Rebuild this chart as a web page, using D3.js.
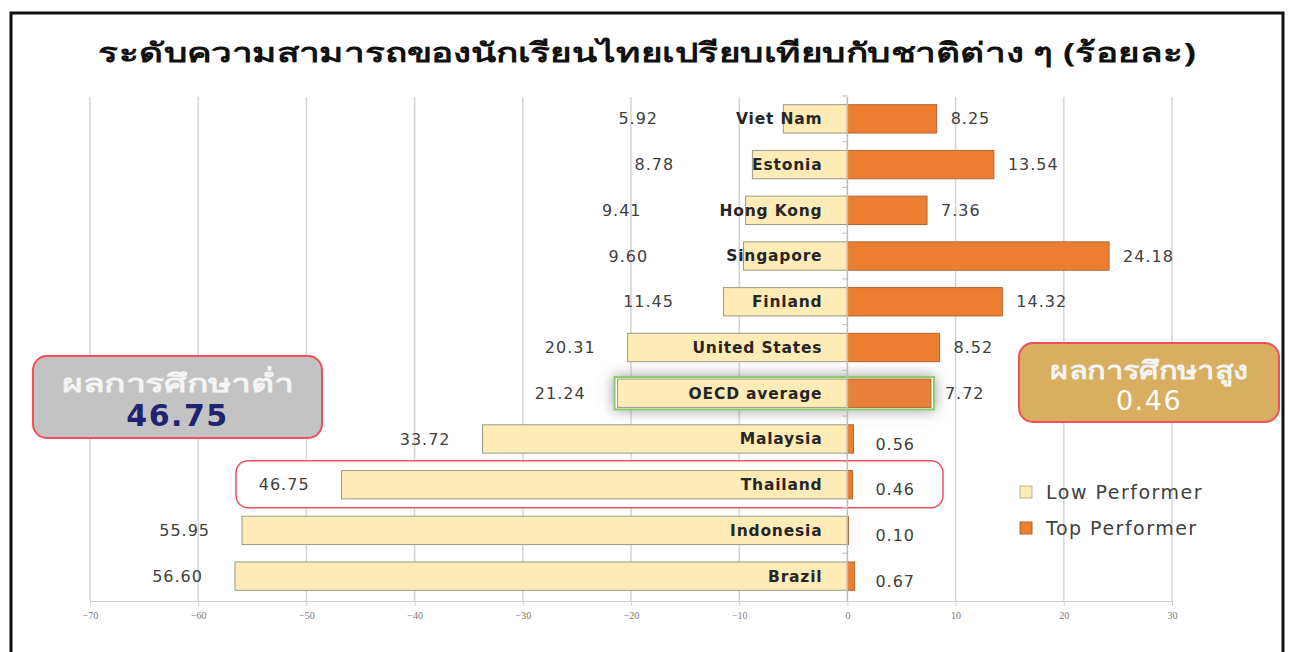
<!DOCTYPE html>
<html>
<head>
<meta charset="utf-8">
<script src="https://cdn.jsdelivr.net/npm/d3@7"></script>
<style>
  body { margin: 0; background: #fff; }
  svg { display: block; }
</style>
</head>
<body>
<div id="chart"></div>
<script>
// data, top to bottom
const countries = ["Viet Nam", "Estonia", "Hong Kong", "Singapore", "Finland", "United States",
    "OECD average", "Malaysia", "Thailand", "Indonesia", "Brazil"];
const lowPerformer = [5.92, 8.78, 9.41, 9.60, 11.45, 20.31, 21.24, 33.72, 46.75, 55.95, 56.60];
const topPerformer = [8.25, 13.54, 7.36, 24.18, 14.32, 8.52, 7.72, 0.56, 0.46, 0.10, 0.67];
const xTicks = [-70, -60, -50, -40, -30, -20, -10, 0, 10, 20, 30];
const seriesNames = ["Low Performer", "Top Performer"];
const titleText = "ระดับความสามารถของนักเรียนไทยเปรียบเทียบกับชาติต่าง ๆ (ร้อยละ)";
const lowBox = ["ผลการศึกษาต่ำ", "46.75"];
const highBox = ["ผลการศึกษาสูง", "0.46"];

const width = 1289, height = 652;
const lowColor = "#FFEBB5", topColor = "#ED7D31";
const labelFont = "'DejaVu Sans', sans-serif";
const thaiFont = "'Noto Sans', 'DejaVu Sans', sans-serif";

const data = countries.map((c, i) => ({ country: c, low: lowPerformer[i], top: topPerformer[i] }));

const svg = d3.select("#chart").append("svg")
    .attr("width", width)
    .attr("height", height);

// soft shadow for the OECD row
const defs = svg.append("defs");
const glow = defs.append("filter").attr("id", "glow")
    .attr("x", "-20%").attr("y", "-100%").attr("width", "140%").attr("height", "300%");
glow.append("feGaussianBlur").attr("in", "SourceAlpha").attr("stdDeviation", 7).attr("result", "b");
glow.append("feFlood").attr("flood-color", "#777").attr("flood-opacity", 0.75);
glow.append("feComposite").attr("in2", "b").attr("operator", "in").attr("result", "s");
const gm = glow.append("feMerge");
gm.append("feMergeNode").attr("in", "s");
gm.append("feMergeNode").attr("in", "SourceGraphic");

// outer frame
svg.append("rect")
    .attr("x", 11).attr("y", 13)
    .attr("width", 1272).attr("height", 660)
    .attr("fill", "none")
    .attr("stroke", "#111")
    .attr("stroke-width", 3);

// title
svg.append("text")
    .attr("x", 647).attr("y", 62)
    .attr("text-anchor", "middle")
    .style("font-family", thaiFont)
    .style("font-size", "27px")
    .style("font-weight", "bold")
    .attr("fill", "#111")
    .attr("textLength", 1098)
    .attr("lengthAdjust", "spacingAndGlyphs")
    .text(titleText);

// scales
const x = d3.scaleLinear().domain([-70, 30]).range([90, 1172]);
const y = d3.scaleBand().domain(countries).range([96, 599]).paddingInner(0.38).paddingOuter(0.19);
const axisY = 601;

// gridlines
svg.append("g").selectAll("line")
    .data(xTicks.filter(d => d !== 0))
    .join("line")
    .attr("x1", d => x(d)).attr("x2", d => x(d))
    .attr("y1", 97).attr("y2", axisY)
    .attr("stroke", "#d4d4d4")
    .attr("stroke-width", 1.5);

// Thailand highlight
const thY = y("Thailand") + y.bandwidth() / 2;
svg.append("rect")
    .attr("x", 236).attr("y", thY - 24)
    .attr("width", 707).attr("height", 47)
    .attr("rx", 12)
    .attr("fill", "#fff")
    .attr("stroke", "#F05060")
    .attr("stroke-width", 1.5);

// x axis
const xAxis = d3.axisBottom(x).tickValues(xTicks).tickSize(5).tickPadding(6);
const xAxisG = svg.append("g")
    .attr("transform", `translate(0,${axisY})`)
    .call(xAxis);
xAxisG.select(".domain").attr("stroke", "#d0d0d0");
xAxisG.selectAll(".tick line").attr("stroke", "#d0d0d0");
xAxisG.selectAll(".tick text")
    .attr("fill", "#777")
    .style("font-family", "'Liberation Serif', serif")
    .style("font-size", "10px");

// OECD glow box
const oY = y("OECD average");
svg.append("rect")
    .attr("x", x(-21.24) - 3).attr("y", oY - 2)
    .attr("width", x(7.72) - x(-21.24) + 6).attr("height", y.bandwidth() + 4)
    .attr("fill", "#fff")
    .attr("stroke", "#8CCB6A")
    .attr("stroke-width", 2)
    .attr("filter", "url(#glow)");

// bars
const rows = svg.append("g").selectAll(".row")
    .data(data)
    .join("g")
    .attr("class", "row");

rows.append("rect")
    .attr("x", d => x(-d.low))
    .attr("y", d => y(d.country))
    .attr("width", d => x(0) - x(-d.low))
    .attr("height", y.bandwidth())
    .attr("fill", lowColor)
    .attr("stroke", "#9a9a8a")
    .attr("stroke-width", 1);

rows.append("rect")
    .attr("x", x(0))
    .attr("y", d => y(d.country))
    .attr("width", d => x(d.top) - x(0))
    .attr("height", y.bandwidth())
    .attr("fill", d => d.country === "OECD average" ? "#E8803A" : topColor)
    .attr("stroke", "#B5652E")
    .attr("stroke-width", 1);

// zero line with small ticks between rows
svg.append("line")
    .attr("x1", x(0)).attr("x2", x(0))
    .attr("y1", 97).attr("y2", axisY)
    .attr("stroke", "#bbb")
    .attr("stroke-width", 1.5);
svg.append("g").selectAll("line")
    .data(countries)
    .join("line")
    .attr("x1", x(0) - 5).attr("x2", x(0))
    .attr("y1", d => y(d) - y.step() * y.paddingInner() / 2)
    .attr("y2", d => y(d) - y.step() * y.paddingInner() / 2)
    .attr("stroke", "#bbb");

// country names
const names = rows.append("text")
    .attr("x", x(0) - 25)
    .attr("y", d => y(d.country) + y.bandwidth() / 2)
    .attr("dy", "0.35em")
    .attr("text-anchor", "end")
    .style("font-family", labelFont)
    .style("font-size", "15.5px")
    .style("font-weight", "bold")
    .style("letter-spacing", "0.8px")
    .attr("fill", "#262626")
    .text(d => d.country);

// low values, left of the bar or the name
rows.append("text")
    .attr("x", function (d, i) {
        const w = names.nodes()[i].getComputedTextLength();
        const nameStart = x(0) - 25 - w;
        return Math.min(x(-d.low) - 32, nameStart - 78);
    })
    .attr("y", d => y(d.country) + y.bandwidth() / 2)
    .attr("dy", "0.35em")
    .attr("text-anchor", "end")
    .style("font-family", labelFont)
    .style("font-size", "16px")
    .style("letter-spacing", "1px")
    .attr("fill", "#404040")
    .text(d => d3.format(".2f")(d.low));

// top values
rows.append("text")
    .attr("x", d => Math.max(x(d.top) + 14, x(0) + 28))
    .attr("y", d => y(d.country) + y.bandwidth() / 2 + (d.top < 1 ? 5 : 0))
    .attr("dy", "0.35em")
    .style("font-family", labelFont)
    .style("font-size", "16px")
    .style("letter-spacing", "1px")
    .attr("fill", "#404040")
    .text(d => d3.format(".2f")(d.top));

// legend
const legend = svg.append("g").attr("transform", "translate(1020,492)");
seriesNames.forEach((s, i) => {
    legend.append("rect")
        .attr("x", 0).attr("y", i * 36 - 6)
        .attr("width", 12).attr("height", 12)
        .attr("fill", i === 0 ? lowColor : topColor)
        .attr("stroke", i === 0 ? "#b8b09a" : "#B5652E");
    legend.append("text")
        .attr("x", 26).attr("y", i * 36)
        .attr("dy", "0.35em")
        .style("font-family", labelFont)
        .style("font-size", "19px")
        .style("letter-spacing", "1.5px")
        .attr("fill", "#404040")
        .text(s);
});

// callout boxes
function callout(bx, by, bw, bh, fill, lines, thaiWidth, bigColor, bigSize, bigWeight) {
    const g = svg.append("g");
    g.append("rect")
        .attr("x", bx).attr("y", by)
        .attr("width", bw).attr("height", bh)
        .attr("rx", 14)
        .attr("fill", fill)
        .attr("stroke", "#F0505A")
        .attr("stroke-width", 2);
    g.append("text")
        .attr("x", bx + bw / 2).attr("y", by + 36)
        .attr("text-anchor", "middle")
        .style("font-family", thaiFont)
        .style("font-size", "25px")
        .style("font-weight", "bold")
        .attr("textLength", thaiWidth)
        .attr("lengthAdjust", "spacingAndGlyphs")
        .attr("fill", "#F4F4F4")
        .text(lines[0]);
    g.append("text")
        .attr("x", bx + bw / 2).attr("y", by + bh - 12)
        .attr("text-anchor", "middle")
        .style("font-family", labelFont)
        .style("font-size", bigSize)
        .style("font-weight", bigWeight)
        .style("letter-spacing", "1.5px")
        .attr("fill", bigColor)
        .text(lines[1]);
}
callout(33, 356, 289, 82, "#C3C3C3", lowBox, 232, "#1F2370", "30px", "bold");
callout(1019, 343, 260, 79, "#D8AE60", highBox, 198, "#fff", "27px", "normal");
</script>
</body>
</html>
